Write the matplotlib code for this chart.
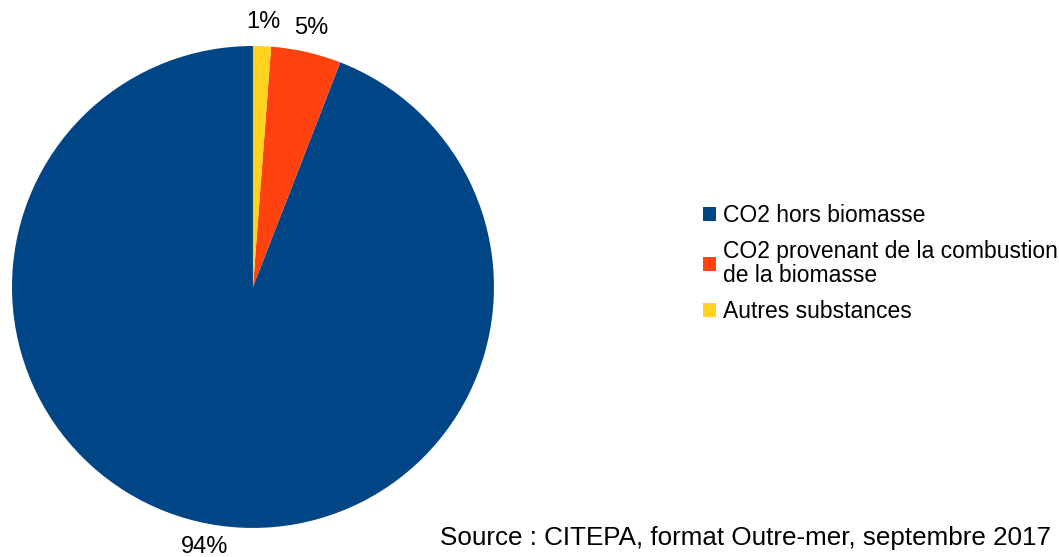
import matplotlib.pyplot as plt

plt.rcParams['font.family'] = ['Liberation Sans', 'DejaVu Sans']

# Données
categories = ['CO2 hors biomasse',
              'CO2 provenant de la combustion\nde la biomasse',
              'Autres substances']
valeurs = [94.1, 4.7, 1.2]
couleurs = ['#004586', '#ff420e', '#ffd320']
source = 'Source : CITEPA, format Outre-mer, septembre 2017'

fig = plt.figure(figsize=(10.59, 5.57), dpi=100)
ax = fig.add_axes([0.01133, 0.0521, 0.4551, 0.8654])

wedges, _, pcts = ax.pie(valeurs, colors=couleurs, startangle=90,
                         autopct='%.0f%%', pctdistance=1.1, radius=1,
                         wedgeprops=dict(linewidth=0))
for t in pcts:
    t.set_fontsize(17)
ax.set_xlim(-1, 1)
ax.set_ylim(-1, 1)
ax.set_aspect('equal')

leg = fig.legend(wedges, categories, loc='center left',
                 bbox_to_anchor=(0.664, 0.527), frameon=False, fontsize=16.5,
                 handlelength=0.57, handleheight=0.57, handletextpad=0.3,
                 labelspacing=0.55, borderaxespad=0, borderpad=0)
for t in leg.get_texts():
    t.set_linespacing(1.1)

fig.text(0.992, 0.013, source, ha='right', va='bottom', fontsize=18.7)

fig.savefig('out.png', dpi=100)
